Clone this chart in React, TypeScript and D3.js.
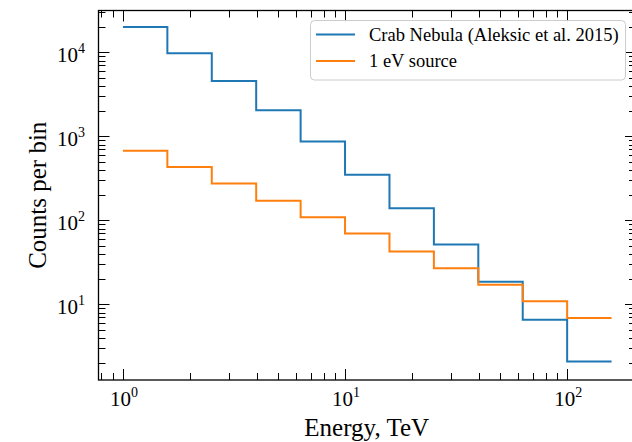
import React, { useEffect, useRef } from 'react';
import * as d3 from 'd3';

// bin edges in TeV (log spaced, 5 bins per decade)
const binEdges = [1.0, 1.585, 2.512, 3.981, 6.31, 10.0, 15.85, 25.12, 39.81, 63.1, 100.0, 158.5];
// counts per bin
const crabCounts = [20100, 9800, 4570, 2050, 870, 350, 140, 51.8, 18.6, 6.58, 2.09];
const oneEvCounts = [675, 433, 276, 172, 109, 69.7, 42.6, 27.0, 17.1, 10.9, 6.87];
const seriesNames = ['Crab Nebula (Aleksic et al. 2015)', '1 eV source'];
const seriesColors = ['#1f77b4', '#ff7f0e'];
const xTickExps = [0, 1, 2];
const yTickExps = [1, 2, 3, 4];

const FONT = '"Liberation Serif", "Times New Roman", serif';

const StepChart = ({ width, height }) => {
    const svgRef = useRef(null);

    useEffect(() => {
        const svg = d3.select(svgRef.current);
        svg.selectAll('*').remove();

        const left = 98.5, right = 636, top = 10.5, bottom = 380;

        const xScale = d3.scaleLog()
            .domain([Math.pow(10, -0.11), Math.pow(10, 2.31)])
            .range([left, right]);
        const yScale = d3.scaleLog()
            .domain([Math.pow(10, 0.1), Math.pow(10, 4.5)])
            .range([bottom, top]);

        // minor + major ticks inside the frame
        const logTicks = (scale) => {
            const [d0, d1] = scale.domain();
            const out = [];
            for (let e = Math.floor(Math.log10(d0)); e <= Math.ceil(Math.log10(d1)); e++) {
                for (let m = 1; m <= 9; m++) {
                    const v = m * Math.pow(10, e);
                    if (v >= d0 && v <= d1) out.push({ v, major: m === 1 });
                }
            }
            return out;
        };

        const majorLen = 11, minorLen = 7;
        const ticks = svg.append('g').attr('stroke', '#000').attr('stroke-width', 1);

        logTicks(xScale).forEach(t => {
            const x = Math.round(xScale(t.v)) + 0.5;
            const len = t.major ? majorLen : minorLen;
            ticks.append('line').attr('x1', x).attr('x2', x).attr('y1', bottom).attr('y2', bottom - len);
            ticks.append('line').attr('x1', x).attr('x2', x).attr('y1', top).attr('y2', top + len);
        });
        logTicks(yScale).forEach(t => {
            const y = Math.round(yScale(t.v)) + 0.5;
            const len = t.major ? majorLen : minorLen;
            ticks.append('line').attr('x1', left).attr('x2', left + len).attr('y1', y).attr('y2', y);
            ticks.append('line').attr('x1', right).attr('x2', right - len).attr('y1', y).attr('y2', y);
        });

        // step lines
        const line = d3.line()
            .x(d => xScale(d[0]))
            .y(d => yScale(d[1]))
            .curve(d3.curveStepAfter);

        [crabCounts, oneEvCounts].forEach((counts, i) => {
            const pts = counts.map((c, j) => [binEdges[j], c]);
            pts.push([binEdges[binEdges.length - 1], counts[counts.length - 1]]);
            svg.append('path')
                .datum(pts)
                .attr('fill', 'none')
                .attr('stroke', seriesColors[i])
                .attr('stroke-width', 2)
                .attr('d', line);
        });

        // frame
        svg.append('rect')
            .attr('x', left).attr('y', top)
            .attr('width', right - left).attr('height', bottom - top)
            .attr('fill', 'none')
            .attr('stroke', '#000')
            .attr('stroke-width', 1.3);

        // tick labels
        xTickExps.forEach(e => {
            const t = svg.append('text')
                .attr('x', xScale(Math.pow(10, e)) + 1)
                .attr('y', 406)
                .attr('text-anchor', 'middle')
                .attr('font-family', FONT)
                .attr('font-size', 21);
            t.append('tspan').text('10');
            t.append('tspan').attr('font-size', 14).attr('dy', -9).text(String(e));
        });
        yTickExps.forEach(e => {
            const t = svg.append('text')
                .attr('x', 85)
                .attr('y', yScale(Math.pow(10, e)) + 10)
                .attr('text-anchor', 'end')
                .attr('font-family', FONT)
                .attr('font-size', 21);
            t.append('tspan').text('10');
            t.append('tspan').attr('font-size', 14).attr('dy', -9).text(String(e));
        });

        // axis labels
        svg.append('text')
            .attr('x', (left + 636) / 2 - 0.5)
            .attr('y', 436)
            .attr('text-anchor', 'middle')
            .attr('font-family', FONT)
            .attr('font-size', 25)
            .text('Energy, TeV');
        svg.append('text')
            .attr('transform', `translate(46,${(top + bottom) / 2}) rotate(-90)`)
            .attr('text-anchor', 'middle')
            .attr('font-family', FONT)
            .attr('font-size', 25)
            .text('Counts per bin');

        // legend
        const legend = svg.append('g');
        legend.append('rect')
            .attr('x', 310.5).attr('y', 20.5)
            .attr('width', 315).attr('height', 59.5)
            .attr('rx', 4)
            .attr('fill', '#fff').attr('fill-opacity', 0.8)
            .attr('stroke', '#cccccc');
        seriesNames.forEach((name, i) => {
            const y = 34.5 + i * 26.5;
            legend.append('line')
                .attr('x1', 316).attr('x2', 355)
                .attr('y1', y).attr('y2', y)
                .attr('stroke', seriesColors[i])
                .attr('stroke-width', 2);
            legend.append('text')
                .attr('x', 369)
                .attr('y', y + 6)
                .attr('font-family', FONT)
                .attr('font-size', 18.5)
                .text(name);
        });

        svg.attr('width', width);
        svg.attr('height', height);
    }, [width, height]);

    return <svg ref={svgRef} width={width} height={height} style={{ display: 'block' }} />;
};

export default function App() {
    return (
        <div style={{ position: 'fixed', left: 0, top: 0, background: '#fff' }}>
            <StepChart width={632} height={442} />
        </div>
    );
}
